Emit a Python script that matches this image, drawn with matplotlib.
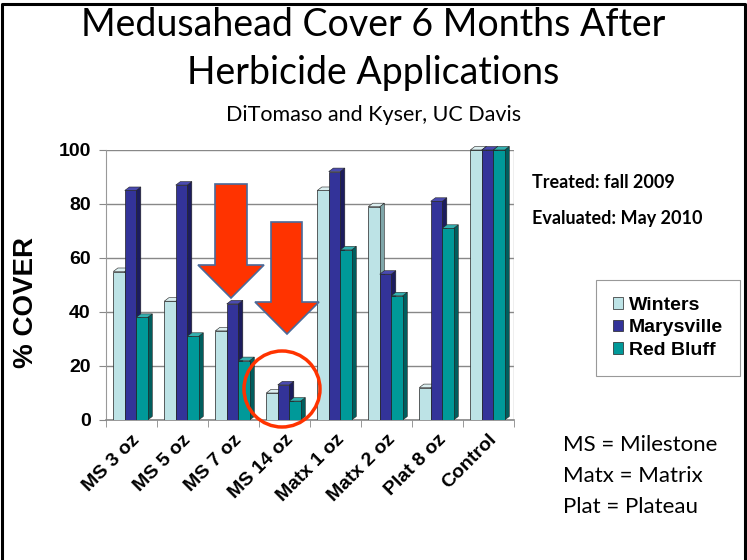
import numpy as np
import matplotlib
matplotlib.use("Agg")
import matplotlib.pyplot as plt
from matplotlib.patches import Polygon, Ellipse
from matplotlib.lines import Line2D


categories = ["MS 3 oz", "MS 5 oz", "MS 7 oz", "MS 14 oz",
              "Matx 1 oz", "Matx 2 oz", "Plat 8 oz", "Control"]
winters = [55, 44, 33, 10, 85, 79, 12, 100]
marysville = [85, 87, 43, 13, 92, 54, 81, 100]
red_bluff = [38, 31, 22, 7, 63, 46, 71, 100]
series_names = ["Winters", "Marysville", "Red Bluff"]
y_ticks = [0, 20, 40, 60, 80, 100]

colors = ["#BDE3E6", "#333399", "#009999"]
side_colors = ["#7FA6A9", "#1C1C5E", "#005E5E"]
top_colors = ["#DCEFF0", "#4A4AB0", "#33B0B0"]

W, H = 747, 560
fig = plt.figure(figsize=(W / 100, H / 100), dpi=100)


def fx(px):
    return px / W


def fy(py):
    return 1 - py / H


# slide border (top, left, right only)
fig.lines.append(Line2D([fx(2), fx(2), fx(745), fx(745)], [0, fy(4), fy(4), 0],
                        transform=fig.transFigure, color="black", linewidth=2.2))

ax = fig.add_axes([fx(106), fy(420), fx(408), 270 / H])

x = np.arange(len(categories))
bw = 0.225
offsets = [-0.245, -0.02, 0.205]
dx, dy = 0.09, 1.3   # fake 3D depth

for k, vals in enumerate([winters, marysville, red_bluff]):
    xs = x + offsets[k]
    ax.bar(xs, vals, width=bw, color=colors[k], edgecolor="#222222",
           linewidth=0.5, label=series_names[k], zorder=3)
    for xi, v in zip(xs, vals):
        r = xi + bw / 2
        l = xi - bw / 2
        ax.add_patch(Polygon([(r, 0), (r + dx, dy), (r + dx, v + dy), (r, v)],
                             closed=True, facecolor=side_colors[k],
                             edgecolor="#222222", linewidth=0.4, zorder=2,
                             clip_on=False))
        ax.add_patch(Polygon([(l, v), (l + dx, v + dy), (r + dx, v + dy), (r, v)],
                             closed=True, facecolor=top_colors[k],
                             edgecolor="#222222", linewidth=0.4, zorder=3,
                             clip_on=False))

ax.set_xlim(-0.5, len(categories) - 0.5)
ax.set_ylim(0, 100)
ax.set_yticks(y_ticks)
ax.set_yticklabels([str(t) for t in y_ticks], fontsize=14, fontweight="bold",
                   family="Liberation Sans")
ax.set_xticks(np.arange(len(categories) + 1) - 0.5, minor=True)
ax.set_xticks(x)
ax.set_xticklabels(categories, rotation=45, ha="right", rotation_mode="anchor",
                   fontsize=14, fontweight="bold", family="Liberation Sans")
ax.tick_params(axis="x", which="major", length=0, pad=8)
ax.tick_params(axis="x", which="minor", length=5, color="#888888")
ax.tick_params(axis="y", length=5, color="#888888", pad=6)
ax.yaxis.grid(True, color="#888888", linewidth=1.0, zorder=0)
ax.set_axisbelow(True)
for s in ["top", "right"]:
    ax.spines[s].set_visible(False)
ax.spines["left"].set_color("#999999")
ax.spines["bottom"].set_color("#888888")
ax.spines["bottom"].set_linewidth(1.2)
ax.axvline(len(categories) - 0.5, color="#aaaaaa", linewidth=1, zorder=1)

fig.text(fx(26), fy(302), "% COVER", rotation=90, ha="center", va="center",
         fontsize=20, fontweight="bold", family="Liberation Sans")

# legend
leg = fig.legend(loc="upper left", bbox_to_anchor=(fx(596), fy(280)),
                 bbox_transform=fig.transFigure, borderaxespad=0,
                 prop={"family": "Liberation Sans", "weight": "bold", "size": 14},
                 handlelength=0.55, handleheight=0.55, handletextpad=0.3,
                 labelspacing=0.3, borderpad=0.85, fancybox=False,
                 edgecolor="#999999", framealpha=1)
leg.get_frame().set_linewidth(0.8)

# titles
fig.text(0.5, fy(25), "Medusahead Cover 6 Months After", ha="center", va="center",
         fontsize=27, family="Lato")
fig.text(0.5, fy(73), "Herbicide Applications", ha="center", va="center",
         fontsize=27, family="Lato")
fig.text(0.5, fy(115), "DiTomaso and Kyser, UC Davis", ha="center", va="center",
         fontsize=15.5, family="Lato")

fig.text(fx(532), fy(183), "Treated: fall 2009", ha="left", va="center",
         fontsize=13, fontweight="bold", family="Lato")
fig.text(fx(532), fy(219), "Evaluated: May 2010", ha="left", va="center",
         fontsize=13, fontweight="bold", family="Lato")

for i, line in enumerate(["MS = Milestone", "Matx = Matrix", "Plat = Plateau"]):
    fig.text(fx(563), fy(445 + 31 * i), line, ha="left", va="center",
             fontsize=16, family="Lato")


# red arrows and circle
def arrow(x0, x1, top, hx0, hx1, hy, tip):
    xm = (hx0 + hx1) / 2
    pts = [(x0, top), (x1, top), (x1, hy), (hx1, hy), (xm, tip), (hx0, hy), (x0, hy)]
    pts = [(fx(a), fy(b)) for a, b in pts]
    fig.patches.append(Polygon(pts, closed=True, transform=fig.transFigure,
                               facecolor="#FF3300", edgecolor="#4A6A9A",
                               linewidth=1.2, zorder=10))


arrow(215, 247, 184, 198, 264, 265, 298)
arrow(271, 302, 222, 255, 319, 302, 334)

fig.patches.append(Ellipse((fx(282), fy(389)), fx(76), 76 / H,
                           transform=fig.transFigure, fill=False,
                           edgecolor="#FF3300", linewidth=2.5, zorder=10))

fig.savefig("out.png", dpi=100)
